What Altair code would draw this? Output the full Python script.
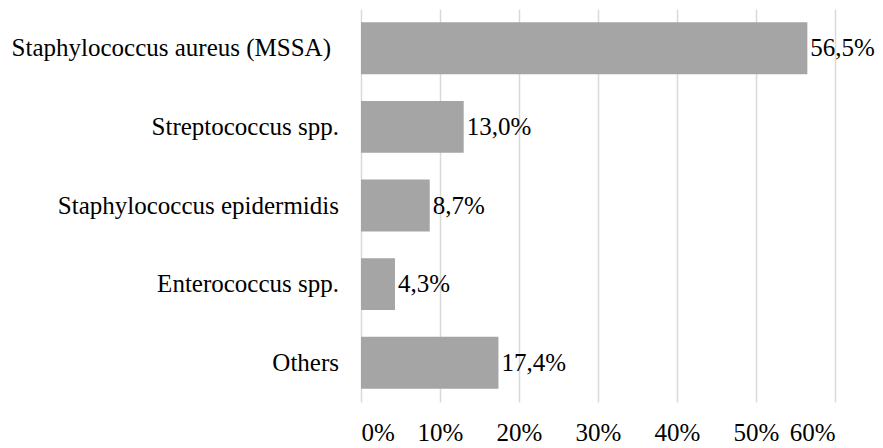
import altair as alt
import pandas as pd

categories = ["Staphylococcus aureus (MSSA)", "Streptococcus spp.", "Staphylococcus epidermidis",
              "Enterococcus spp.", "Others"]
values = [56.5, 13.0, 8.7, 4.3, 17.4]
labels = ["56,5%", "13,0%", "8,7%", "4,3%", "17,4%"]
ticks = [0, 0.1, 0.2, 0.3, 0.4, 0.5, 0.6]

df = pd.DataFrame({"cat": categories, "val": [v / 100 for v in values], "lab": labels})

FONT = "Liberation Serif"
FS = 25

ysort = alt.Y("cat:N", sort=categories)
y = alt.Y("cat:N", sort=categories, title=None,
          scale=alt.Scale(paddingInner=0.34, paddingOuter=0.17),
          axis=alt.Axis(domain=False, ticks=False, labels=False, grid=False))
x = alt.X("val:Q", title=None,
          scale=alt.Scale(domain=[0, 0.6], nice=False),
          axis=alt.Axis(values=ticks, format=".0%", domain=False, ticks=False,
                        labelPadding=18, labelFontSize=FS, labelFont=FONT, labelColor="black",
                        labelOverlap=False, grid=True, gridColor="#D9D9D9", gridWidth=1.5))

bars = alt.Chart(df).mark_bar(color="#A5A5A5").encode(x=x, y=y)
text = alt.Chart(df).mark_text(align="left", baseline="middle", dx=3, fontSize=FS,
                               font=FONT, color="black").encode(x="val:Q", y=ysort, text="lab:N")

cat_first = alt.Chart(df).transform_filter(alt.datum.cat == categories[0]).mark_text(
    align="right", baseline="middle", dx=-30, fontSize=FS, font=FONT, color="black"
).encode(x=alt.value(0), y=ysort, text="cat:N")
cat_rest = alt.Chart(df).transform_filter(alt.datum.cat != categories[0]).mark_text(
    align="right", baseline="middle", dx=-22, fontSize=FS, font=FONT, color="black"
).encode(x=alt.value(0), y=ysort, text="cat:N")

chart = (bars + text + cat_first + cat_rest).properties(
    width=474, height=393,
    autosize=alt.AutoSizeParams(type="none"),
    padding={"left": 353, "top": 1, "right": 40, "bottom": 44},
).configure_view(stroke=None)

chart.save("out.html", embed_options={"renderer": "svg", "actions": False})
